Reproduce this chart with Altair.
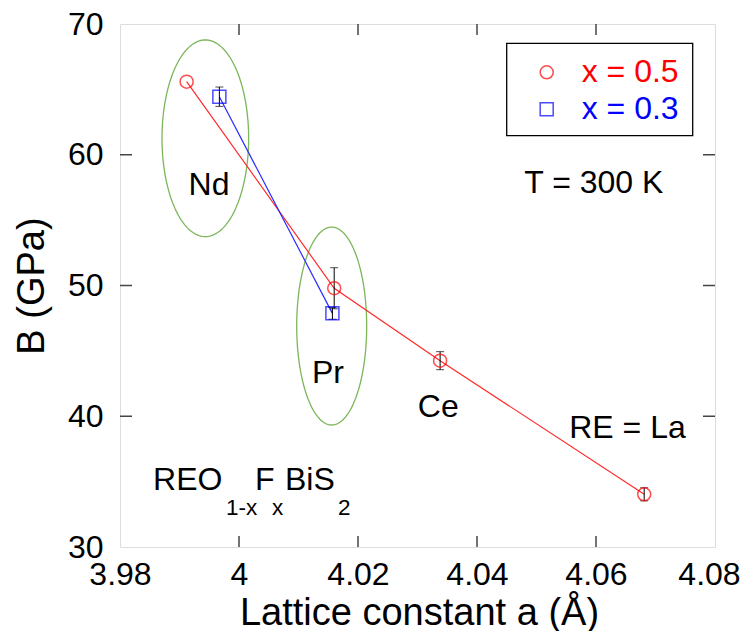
import altair as alt
import numpy as np
import pandas as pd

# ---------------- data ----------------
a_05 = [3.9912, 4.0160, 4.0338, 4.0681]
B_05 = [65.59, 49.79, 44.25, 34.03]
err_05 = [0.0, 1.57, 0.69, 0.50]

a_03 = [3.9967, 4.0157]
B_03 = [64.44, 47.87]
err_03 = [0.74, 0.45]

series_names = ["x = 0.5", "x = 0.3"]
series_colors = ["red", "blue"]
series_shapes = ["circle", "square"]

x_ticks = [3.98, 4.00, 4.02, 4.04, 4.06, 4.08]
y_ticks = [30, 40, 50, 60, 70]

# ellipse annotations: center a, center B, half-width (a), half-height (B)
ell_names = ["Nd", "Pr"]
ell_ca = [3.99434, 4.01558]
ell_cB = [61.26, 46.90]
ell_ra = [0.00728, 0.00588]
ell_rB = [7.52, 7.57]

# labels
lab_text = ["Nd", "Pr", "Ce", "RE = La", "T = 300 K"]
lab_a = [3.99496, 4.01496, 4.0335, 4.06529, 4.05963]
lab_B = [56.92, 42.52, 39.97, 38.31, 57.05]

formula_text = ["REO", "1-x", "F", "x", "BiS", "2"]
formula_a = [3.98555, 3.99782, 4.00269, 4.00555, 4.00773, 4.01664]
formula_B = [34.36, 32.45, 34.36, 32.45, 34.36, 32.45]
formula_size = [32, 22.5, 32, 22.5, 32, 22.5]

W, H = 595, 523
FONT = "Liberation Sans"

# ---------------- tables ----------------
pts = pd.DataFrame({
    "a": a_05 + a_03,
    "B": B_05 + B_03,
    "err": err_05 + err_03,
    "series": [series_names[0]] * len(a_05) + [series_names[1]] * len(a_03),
})
pts["lo"] = pts["B"] - pts["err"]
pts["hi"] = pts["B"] + pts["err"]
errs = pts[pts["err"] > 0]

t = np.linspace(0, 2 * np.pi, 181)
ell_rows = []
for n, ca, cb, ra, rb in zip(ell_names, ell_ca, ell_cB, ell_ra, ell_rB):
    for i, ti in enumerate(t):
        ell_rows.append({"name": n, "i": i, "a": ca + ra * np.cos(ti), "B": cb + rb * np.sin(ti)})
ell = pd.DataFrame(ell_rows)

labels = pd.DataFrame({"text": lab_text, "a": lab_a, "B": lab_B})
formula = pd.DataFrame({"text": formula_text, "a": formula_a, "B": formula_B, "size": formula_size})

xt = pd.DataFrame({"v": x_ticks[1:-1]})
yt = pd.DataFrame({"v": y_ticks[1:-1]})

xscale = alt.Scale(domain=[3.98, 4.08], nice=False, zero=False)
yscale = alt.Scale(domain=[30, 70], nice=False, zero=False)

xaxis = alt.Axis(values=x_ticks, format="~g", labelFontSize=32, labelPadding=12,
                 labelFlush=False, labelOverlap=False, ticks=False, tickSize=0,
                 labelOffset={"expr": "datum.value > 4.07 ? -6 : 0"},
                 domain=False, grid=False, labelColor="black", labelFont=FONT,
                 title="Lattice constant a (Å)", titleFontSize=38, titleFont=FONT,
                 titleFontWeight="normal", titleColor="black", titleX=299, titleY=77,
                 titleBaseline="alphabetic", titleAlign="center")
yaxis = alt.Axis(values=y_ticks, format="d", labelFontSize=32, labelPadding=17,
                 labelFlush=False, labelOverlap=False, ticks=False, tickSize=0,
                 domain=False, grid=False, labelColor="black", labelFont=FONT,
                 title="B (GPa)", titleFontSize=38, titleFont=FONT,
                 titleFontWeight="normal", titleColor="black", titleX=-77, titleY=261.5,
                 titleAngle=-90, titleBaseline="alphabetic", titleAlign="center")

X = alt.X("a:Q", scale=xscale, axis=xaxis)
Y = alt.Y("B:Q", scale=yscale, axis=yaxis)

base = alt.Chart(pts)

ellipses = alt.Chart(ell).mark_line(color="#7cb65a", strokeWidth=1.3).encode(
    x=alt.X("a:Q", scale=xscale), y=alt.Y("B:Q", scale=yscale),
    detail="name:N", order="i:Q")

line05 = base.transform_filter(alt.datum.series == series_names[0]).mark_line(
    color="#ff2a2a", strokeWidth=1.2).encode(x=X, y=Y, order="a:Q")
line03 = base.transform_filter(alt.datum.series == series_names[1]).mark_line(
    color="#2a2aff", strokeWidth=1.2).encode(x=X, y=Y, order="a:Q")

ebar = alt.Chart(errs).mark_rule(color="black", strokeWidth=1).encode(
    x=alt.X("a:Q", scale=xscale), y=alt.Y("lo:Q", scale=yscale), y2="hi:Q")
cap_lo = alt.Chart(errs).mark_tick(color="black", orient="horizontal", size=8, thickness=1).encode(
    x=alt.X("a:Q", scale=xscale), y=alt.Y("lo:Q", scale=yscale))
cap_hi = alt.Chart(errs).mark_tick(color="black", orient="horizontal", size=8, thickness=1).encode(
    x=alt.X("a:Q", scale=xscale), y=alt.Y("hi:Q", scale=yscale))

legend = alt.Legend(title=None, orient="none", legendX=386.7, legendY=19.3,
                    strokeColor="transparent", padding=13, symbolOffset=11, labelOffset=19,
                    rowPadding=5, labelFontSize=32, labelFont=FONT, symbolSize=169,
                    symbolStrokeWidth=1.5, labelLimit=300,
                    labelColor={"expr": "datum.label == 'x = 0.5' ? 'red' : 'blue'"})

points = base.mark_point(filled=False, size=169, strokeWidth=1.5).encode(
    x=X, y=Y,
    color=alt.Color("series:N", scale=alt.Scale(domain=series_names, range=series_colors), legend=legend),
    shape=alt.Shape("series:N", scale=alt.Scale(domain=series_names, range=series_shapes), legend=legend),
)

# frame around the legend
legend_box = alt.Chart(pd.DataFrame({"k": [0]})).mark_rect(
    fill=None, stroke="black", strokeWidth=1.3).encode(
    x=alt.value(386.7), x2=alt.value(572.7), y=alt.value(19.3), y2=alt.value(111.7))

texts = alt.Chart(labels).mark_text(fontSize=32, font=FONT, color="black", align="center",
                                    baseline="alphabetic").encode(
    x=alt.X("a:Q", scale=xscale), y=alt.Y("B:Q", scale=yscale), text="text:N")

ftexts = alt.Chart(formula).mark_text(font=FONT, color="black", align="left",
                                      baseline="alphabetic").encode(
    x=alt.X("a:Q", scale=xscale), y=alt.Y("B:Q", scale=yscale), text="text:N",
    size=alt.Size("size:Q", scale=None, legend=None))

tick_style = dict(color="#444", strokeWidth=1.5)
tick_b = alt.Chart(xt).mark_rule(**tick_style).encode(
    x=alt.X("v:Q", scale=xscale), y=alt.value(H - 11), y2=alt.value(H))
tick_t = alt.Chart(xt).mark_rule(**tick_style).encode(
    x=alt.X("v:Q", scale=xscale), y=alt.value(0), y2=alt.value(11))
tick_l = alt.Chart(yt).mark_rule(**tick_style).encode(
    y=alt.Y("v:Q", scale=yscale), x=alt.value(0), x2=alt.value(12))
tick_r = alt.Chart(yt).mark_rule(**tick_style).encode(
    y=alt.Y("v:Q", scale=yscale), x=alt.value(W - 12), x2=alt.value(W))

chart = alt.layer(
    ellipses, line05, line03, ebar, cap_lo, cap_hi, points, legend_box, texts, ftexts,
    tick_b, tick_t, tick_l, tick_r,
).properties(
    width=W, height=H,
    autosize=alt.AutoSizeParams(type="none"),
    padding={"left": 112, "top": 16, "right": 26, "bottom": 84},
).configure_view(
    stroke="#444", strokeWidth=1.5
).configure(background="white")

chart.save("out.html", embed_options={"renderer": "svg", "actions": False})
